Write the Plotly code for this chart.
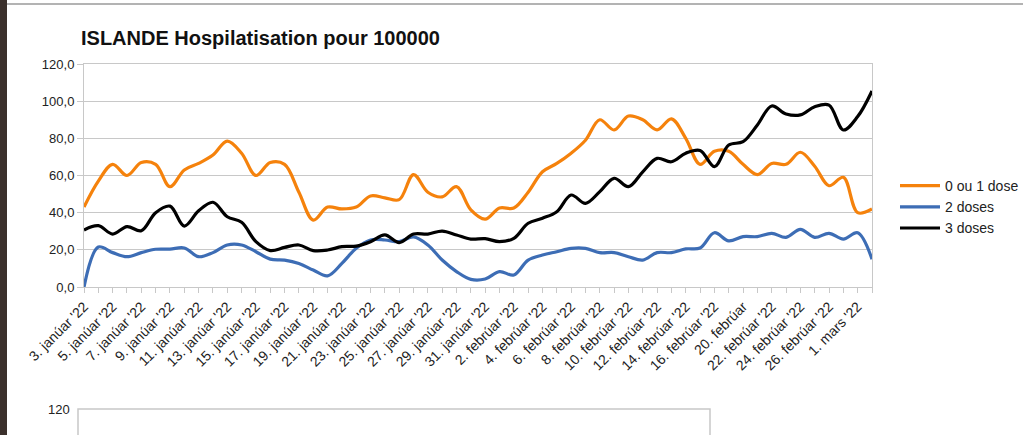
import plotly.graph_objects as go

# ---- categories (x labels) ----
categories = (
    [f"{d}. janúar '22" for d in range(3, 32)]
    + [f"{d}. febrúar '22" for d in range(1, 17)]
    + ["18. febrúar '22", "20. febrúar"]
    + [f"{d}. febrúar '22" for d in range(21, 27)]
    + ["28. febrúar '22", "1. mars '22", "2. mars '22"]
)

dose_0_1 = [43, 57, 66, 60, 67, 66, 54, 63, 66.5, 71, 78.5, 72, 60, 67, 66, 51,
            36, 43, 42, 43, 49, 48, 47, 60.5, 51, 48.5, 54, 41.5, 36.5, 42.5,
            42.5, 51, 62, 66.5, 72, 79, 90, 84.5, 92, 90, 84.5, 90.5, 80, 66,
            73, 73, 66, 60.5, 66.5, 66, 72.5, 65, 54.5, 59, 40, 42]
dose_2 = [0, 21.5, 18.5, 16.3, 18.5, 20.3, 20.4, 21, 16.3, 18.5, 22.6, 22.6, 19,
          15, 14.5, 12.7, 9.1, 6, 12.7, 20.8, 25.3, 25.3, 24.4, 27, 22.6, 14.5,
          8.3, 4.1, 4.3, 8.3, 6.5, 14.5, 17.2, 19, 20.8, 20.8, 18.5, 18.5, 16.3,
          14.5, 18.5, 18.5, 20.5, 21, 29.2, 24.8, 27.1, 27.1, 28.9, 26.7, 31,
          26.7, 28.9, 25.8, 29.2, 15]
dose_3 = [30.7, 33, 28.5, 32.5, 30.3, 40, 43.5, 32.8, 41, 45.6, 37.8, 34.8, 24.4,
          19.6, 21.3, 22.6, 19.6, 19.9, 21.7, 22, 24.4, 28, 23.9, 28.5, 28.5,
          30.1, 28, 25.8, 26, 24.4, 26.2, 34.3, 37, 40.5, 49.5, 45, 51.3, 58.5,
          54, 62, 69.2, 67.4, 72, 73.5, 64.8, 76.4, 78.2, 87.2, 97.4, 93.1, 92.6,
          97, 97.9, 84.5, 91.7, 105.5]

series_names = ["0 ou 1 dose", "2 doses", "3 doses"]
series_colors = ["#f5820c", "#3d6db5", "#000000"]
y_ticks = [0, 20, 40, 60, 80, 100, 120]

x_idx = list(range(len(categories)))
label_idx = x_idx[::2]
label_text = [categories[i] for i in label_idx]

fig = go.Figure()
for name, vals, col in zip(series_names, [dose_0_1, dose_2, dose_3], series_colors):
    fig.add_trace(go.Scatter(
        x=x_idx, y=vals, name=name, mode="lines",
        line=dict(color=col, width=3.2, shape="spline", smoothing=1.0),
        hovertext=categories,
    ))

grid = "#c8c8c8"
fig.update_layout(
    width=1023, height=435,
    margin=dict(l=84, r=151, t=64, b=148, autoexpand=False),
    paper_bgcolor="white", plot_bgcolor="white",
    separators=",.",
    font=dict(family="Liberation Sans, Arial, sans-serif", size=13, color="#222"),
    title=dict(text="<b>ISLANDE Hospilatisation pour 100000</b>",
               x=81 / 1023, xanchor="left", xref="container",
               y=1 - 38 / 435, yanchor="middle", yref="container",
               font=dict(size=20, color="#111", family="Liberation Sans, Arial, sans-serif")),
    showlegend=True,
    legend=dict(x=(895 - 84) / 788, xanchor="left", y=(287 - 170) / 223, yanchor="top",
                font=dict(size=14, color="#222"), bgcolor="rgba(0,0,0,0)",
                tracegroupgap=0, itemwidth=40),
    xaxis=dict(
        range=[0, len(categories) - 1], tickmode="array",
        tickvals=label_idx, ticktext=label_text, tickangle=-45,
        tickfont=dict(size=14, color="#222"),
        ticks="outside", ticklen=5, tickcolor=grid,
        showgrid=False, zeroline=False,
        showline=True, linecolor=grid, linewidth=1, mirror=True,
        minor=dict(tickmode="linear", tick0=0, dtick=1, ticks="outside",
                   ticklen=5, tickcolor=grid, showgrid=False),
    ),
    yaxis=dict(
        range=[0, 120], tickmode="array", tickvals=y_ticks, tickformat=".1f",
        tickfont=dict(size=13, color="#222"),
        ticks="outside", ticklen=6, tickcolor=grid,
        showgrid=True, gridcolor=grid, gridwidth=1,
        zeroline=False, showline=True, linecolor=grid, linewidth=1, mirror=True,
    ),
)

# screenshot context: dark strip on left, top border, fragment of a second chart below
fig.add_shape(type="rect", xref="paper", yref="paper",
              x0=-84 / 788, x1=-77 / 788, y0=-148 / 223, y1=(64 + 223) / 223 + 0.3,
              fillcolor="#3b302c", line=dict(width=0), layer="above")
fig.add_shape(type="line", xref="paper", yref="paper",
              x0=-77 / 788, x1=(1023 - 84) / 788, y0=(287 - 4) / 223, y1=(287 - 4) / 223,
              line=dict(color="#9a9a9a", width=1.5))
fig.add_shape(type="rect", xref="paper", yref="paper",
              x0=(78 - 84) / 788, x1=(710 - 84) / 788,
              y0=(287 - 440) / 223, y1=(287 - 409) / 223,
              line=dict(color="#c8c8c8", width=1.5), fillcolor="rgba(0,0,0,0)")
fig.add_annotation(text="120", xref="paper", yref="paper",
                   x=(72 - 84) / 788, y=(287 - 409) / 223, xanchor="right", yanchor="middle",
                   showarrow=False, font=dict(size=13, color="#222"))

fig.write_html("out.html", config={"displayModeBar": False},
               post_script="document.body.style.margin='0';document.body.style.overflow='hidden';")
